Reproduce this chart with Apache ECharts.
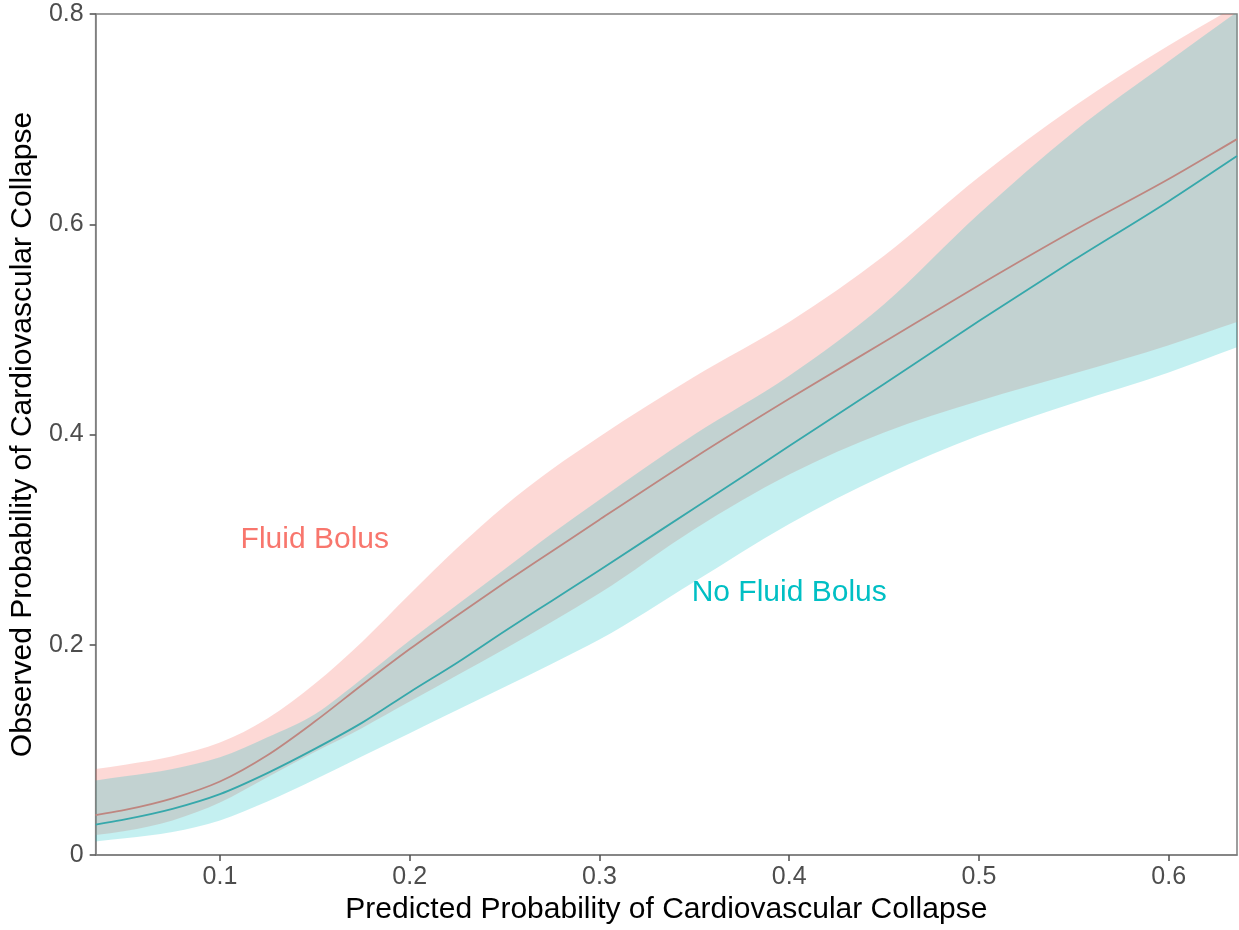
<!DOCTYPE html>
<html>
<head>
<meta charset="utf-8">
<script src="https://cdn.jsdelivr.net/npm/echarts@6/dist/echarts.min.js"></script>
<style>
  html, body { margin: 0; padding: 0; background: #ffffff; }
  #chart { width: 1239px; height: 930px; }
</style>
</head>
<body>
<div id="chart"></div>
<script>
// Predicted probability grid (x)
const predicted = [0.0345, 0.05, 0.075, 0.1, 0.125, 0.15, 0.175, 0.2, 0.225, 0.25, 0.275, 0.3, 0.35, 0.4, 0.45, 0.5, 0.55, 0.6, 0.636];

// Fluid Bolus: fitted curve and confidence band
const fluidFit   = [0.038, 0.043, 0.054, 0.070, 0.095, 0.127, 0.162, 0.196, 0.228, 0.259, 0.289, 0.319, 0.378, 0.434, 0.488, 0.542, 0.594, 0.643, 0.681];
const fluidLower = [0.019, 0.023, 0.033, 0.050, 0.074, 0.098, 0.121, 0.146, 0.171, 0.196, 0.222, 0.249, 0.310, 0.362, 0.402, 0.432, 0.458, 0.485, 0.507];
const fluidUpper = [0.082, 0.086, 0.094, 0.107, 0.130, 0.163, 0.203, 0.248, 0.292, 0.332, 0.367, 0.398, 0.455, 0.507, 0.570, 0.645, 0.712, 0.770, 0.808];

// No Fluid Bolus: fitted curve and confidence band
const noFluidFit   = [0.029, 0.034, 0.044, 0.058, 0.078, 0.101, 0.126, 0.155, 0.183, 0.213, 0.242, 0.271, 0.330, 0.389, 0.448, 0.508, 0.566, 0.622, 0.665];
const noFluidLower = [0.013, 0.016, 0.022, 0.033, 0.051, 0.072, 0.094, 0.116, 0.138, 0.160, 0.182, 0.205, 0.260, 0.315, 0.361, 0.399, 0.430, 0.459, 0.483];
const noFluidUpper = [0.071, 0.075, 0.082, 0.093, 0.112, 0.134, 0.168, 0.204, 0.238, 0.272, 0.306, 0.338, 0.400, 0.456, 0.524, 0.610, 0.688, 0.755, 0.802];

// Axis ticks
const xTicks = [0.1, 0.2, 0.3, 0.4, 0.5, 0.6];
const yTicks = [0, 0.2, 0.4, 0.6, 0.8];

// Group labels placed inside the panel
const labelNames  = ['Fluid Bolus', 'No Fluid Bolus'];
const labelX      = [0.15, 0.40];
const labelY      = [0.30, 0.25];
const labelColors = ['#F8766D', '#00BFC4'];

const FONT = '"Liberation Sans", Arial, Helvetica, sans-serif';

// Slopes for a cubic Hermite curve through pixel points (three-point estimate,
// which copes with the uneven spacing of the x grid)
function hermiteSlopes(pts) {
  const n = pts.length;
  const slope = (a, b) => (pts[b][1] - pts[a][1]) / (pts[b][0] - pts[a][0]);
  return pts.map((p, i) => {
    if (i === 0) return slope(0, 1);
    if (i === n - 1) return slope(n - 2, n - 1);
    const h0 = pts[i][0] - pts[i - 1][0], h1 = pts[i + 1][0] - pts[i][0];
    return (slope(i - 1, i) * h1 + slope(i, i + 1) * h0) / (h0 + h1);
  });
}

const fmt = (v) => v.toFixed(2);

// Curve from left to right, starting with a move (M) or a line (L)
function forwardPath(pts, start) {
  const m = hermiteSlopes(pts);
  let d = start + fmt(pts[0][0]) + ',' + fmt(pts[0][1]);
  for (let i = 0; i < pts.length - 1; i++) {
    const h = (pts[i + 1][0] - pts[i][0]) / 3;
    d += 'C' + fmt(pts[i][0] + h) + ',' + fmt(pts[i][1] + m[i] * h) + ' '
           + fmt(pts[i + 1][0] - h) + ',' + fmt(pts[i + 1][1] - m[i + 1] * h) + ' '
           + fmt(pts[i + 1][0]) + ',' + fmt(pts[i + 1][1]);
  }
  return d;
}

// Same curve traced from right to left, starting with a line to the last point
function backwardPath(pts) {
  const m = hermiteSlopes(pts);
  const n = pts.length;
  let d = 'L' + fmt(pts[n - 1][0]) + ',' + fmt(pts[n - 1][1]);
  for (let i = n - 1; i > 0; i--) {
    const h = (pts[i][0] - pts[i - 1][0]) / 3;
    d += 'C' + fmt(pts[i][0] - h) + ',' + fmt(pts[i][1] - m[i] * h) + ' '
           + fmt(pts[i - 1][0] + h) + ',' + fmt(pts[i - 1][1] + m[i - 1] * h) + ' '
           + fmt(pts[i - 1][0]) + ',' + fmt(pts[i - 1][1]);
  }
  return d;
}

function bandSeries(name, lo, hi, color) {
  return {
    name, type: 'custom', clip: true, silent: true,
    data: predicted.map((x, i) => [x, lo[i], hi[i]]),
    encode: { x: 0, y: [1, 2] },
    renderItem: (params, api) => {
      if (params.dataIndex !== 0) return null;
      const up = predicted.map((x, i) => api.coord([x, hi[i]]));
      const dn = predicted.map((x, i) => api.coord([x, lo[i]]));
      return {
        type: 'path',
        shape: { pathData: forwardPath(up, 'M') + backwardPath(dn) + 'Z' },
        style: { fill: color, stroke: null }
      };
    }
  };
}

function fitSeries(name, ys, color) {
  return {
    name, type: 'custom', clip: true, silent: true,
    data: predicted.map((x, i) => [x, ys[i]]),
    encode: { x: 0, y: 1 },
    renderItem: (params, api) => {
      if (params.dataIndex !== 0) return null;
      const pts = predicted.map((x, i) => api.coord([x, ys[i]]));
      return { type: 'path', shape: { pathData: forwardPath(pts, 'M') },
        style: { fill: 'none', stroke: color, lineWidth: 1.8 } };
    }
  };
}

const chart = echarts.init(document.getElementById('chart'), null, { renderer: 'canvas' });

chart.setOption({
  animation: false,
  backgroundColor: '#ffffff',
  grid: {
    left: 95, right: 2, top: 14, bottom: 72,
    show: true, borderColor: '#7f7f7f', borderWidth: 1.5, backgroundColor: 'transparent'
  },
  xAxis: {
    type: 'value', min: 0.0345, max: 0.636,
    name: 'Predicted Probability of Cardiovascular Collapse',
    nameLocation: 'middle', nameGap: 39,
    nameTextStyle: { fontFamily: FONT, fontSize: 30, color: '#000000' },
    axisLine: { show: true, lineStyle: { color: '#7f7f7f', width: 1.5 } },
    axisTick: { show: true, length: 6, lineStyle: { color: '#4d4d4d', width: 1.5 }, customValues: xTicks },
    axisLabel: { fontFamily: FONT, fontSize: 25, color: '#4d4d4d', margin: 10,
      customValues: xTicks, formatter: (v) => v.toFixed(1) },
    splitLine: { show: false }
  },
  yAxis: {
    type: 'value', min: 0, max: 0.8, interval: 0.2,
    name: 'Observed Probability of Cardiovascular Collapse',
    nameLocation: 'middle', nameGap: 50,
    nameTextStyle: { fontFamily: FONT, fontSize: 30, color: '#000000' },
    axisLine: { show: true, lineStyle: { color: '#7f7f7f', width: 1.5 } },
    axisTick: { show: true, length: 6, lineStyle: { color: '#4d4d4d', width: 1.5 }, customValues: yTicks },
    axisLabel: { fontFamily: FONT, fontSize: 25, color: '#4d4d4d', margin: 12,
      customValues: yTicks, formatter: (v) => (v === 0 ? '0' : v.toFixed(1)) },
    splitLine: { show: false }
  },
  series: [
    bandSeries('Fluid Bolus band', fluidLower, fluidUpper, 'rgba(248,118,109,0.28)'),
    fitSeries('Fluid Bolus', fluidFit, '#F8766D'),
    bandSeries('No Fluid Bolus band', noFluidLower, noFluidUpper, 'rgba(0,191,196,0.23)'),
    fitSeries('No Fluid Bolus', noFluidFit, '#36a8ab'),
    {
      name: 'group labels', type: 'custom', silent: true, clip: false,
      data: labelNames.map((n, i) => [labelX[i], labelY[i]]),
      encode: { x: 0, y: 1 },
      renderItem: (params, api) => {
        const i = params.dataIndex;
        const p = api.coord([labelX[i], labelY[i]]);
        return { type: 'text', x: p[0], y: p[1],
          style: { text: labelNames[i], fill: labelColors[i], fontFamily: FONT, fontSize: 30,
            align: 'center', verticalAlign: 'middle' } };
      }
    }
  ]
});
</script>
</body>
</html>
